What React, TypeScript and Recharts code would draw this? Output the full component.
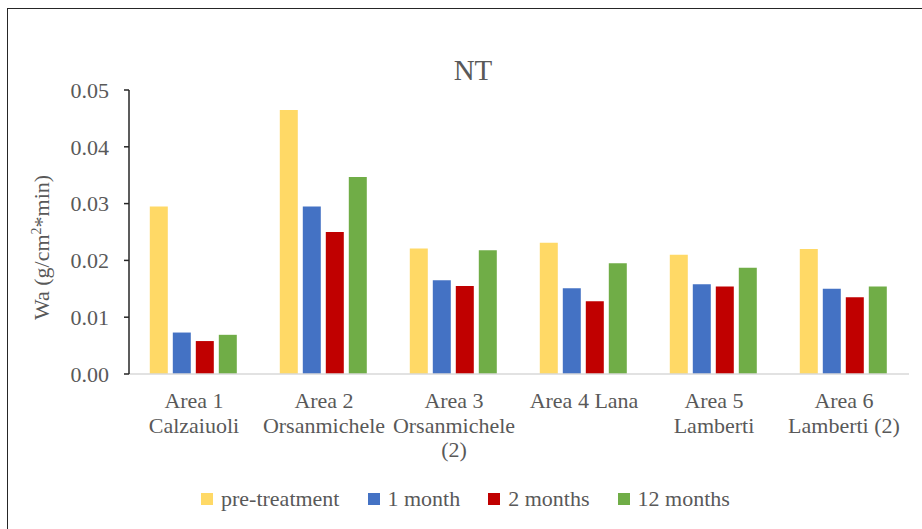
import React from "react";
import { BarChart, Bar, XAxis, YAxis, Legend } from "recharts";

// Category labels (line breaks mark where each label wraps)
const categories = [
  "Area 1\nCalzaiuoli",
  "Area 2\nOrsanmichele",
  "Area 3\nOrsanmichele\n(2)",
  "Area 4 Lana",
  "Area 5\nLamberti",
  "Area 6\nLamberti (2)",
];

// Wa values, g/cm²*min
const preTreatment = [0.0295, 0.0465, 0.0221, 0.0231, 0.021, 0.022];
const oneMonth = [0.0073, 0.0295, 0.0165, 0.0151, 0.0158, 0.015];
const twoMonths = [0.0058, 0.025, 0.0155, 0.0128, 0.0154, 0.0135];
const twelveMonths = [0.0069, 0.0347, 0.0218, 0.0195, 0.0187, 0.0154];

const yTicks = [0, 0.01, 0.02, 0.03, 0.04, 0.05];

const seriesDefs = [
  { key: "pre", name: "pre-treatment", color: "#FFD966", values: preTreatment },
  { key: "m1", name: "1 month", color: "#4472C4", values: oneMonth },
  { key: "m2", name: "2 months", color: "#C00000", values: twoMonths },
  { key: "m12", name: "12 months", color: "#70AD47", values: twelveMonths },
];

const data = categories.map((cat, i) => {
  const row: Record<string, string | number> = { cat };
  seriesDefs.forEach((s) => {
    row[s.key] = s.values[i];
  });
  return row;
});

const FONT = '"Liberation Serif", "Times New Roman", serif';
const TEXT_COLOR = "#595959";

const CategoryTick = (props: any) => {
  const { x, y, payload } = props;
  const lines = String(payload.value).split("\n");
  return (
    <text
      x={x}
      y={y}
      textAnchor="middle"
      fill={TEXT_COLOR}
      fontSize={22}
      fontFamily={FONT}
    >
      {lines.map((ln, i) => (
        <tspan key={i} x={x} dy={i === 0 ? 34 : 24.5}>
          {ln}
        </tspan>
      ))}
    </text>
  );
};

const LegendContent = () => (
  <div
    style={{
      height: 52,
      display: "flex",
      alignItems: "flex-start",
      paddingLeft: 201,
      paddingTop: 9,
      boxSizing: "border-box",
      fontFamily: FONT,
      fontSize: 22,
      color: TEXT_COLOR,
    }}
  >
    {seriesDefs.map((s) => (
      <div
        key={s.key}
        style={{ display: "flex", alignItems: "center", marginRight: 28 }}
      >
        <div
          style={{
            width: 12,
            height: 12,
            background: s.color,
            marginRight: 8,
          }}
        />
        <span style={{ whiteSpace: "nowrap" }}>{s.name}</span>
      </div>
    ))}
  </div>
);

export default function App() {
  return (
    <div
      style={{
        position: "absolute",
        left: 0,
        top: 0,
        width: 922,
        height: 529,
        background: "#fff",
        overflow: "hidden",
      }}
    >
      <div
        style={{
          position: "absolute",
          left: 7,
          top: 8,
          width: 930,
          height: 540,
          borderTop: "1.5px solid #262626",
          borderLeft: "1.5px solid #262626",
        }}
      />
      <div style={{ position: "absolute", left: 0, top: 0 }}>
        <BarChart
          width={922}
          height={529}
          data={data}
          margin={{ top: 90, right: 13, left: 0, bottom: 0 }}
          barCategoryGap="16%"
          barGap={5}
        >
          <text
            x={473}
            y={80}
            textAnchor="middle"
            fill={TEXT_COLOR}
            fontSize={29}
            fontFamily={FONT}
          >
            NT
          </text>
          <text
            x={49}
            y={247.5}
            transform="rotate(-90, 49, 247.5)"
            textAnchor="middle"
            fill={TEXT_COLOR}
            fontSize={22}
            fontFamily={FONT}
          >
            <tspan>Wa (g/cm</tspan>
            <tspan fontSize={14} dy={-8}>
              2
            </tspan>
            <tspan dy={8}>*min)</tspan>
          </text>
          <XAxis
            dataKey="cat"
            height={103}
            interval={0}
            tickLine={false}
            tickSize={0}
            tickMargin={0}
            axisLine={{ stroke: "#D9D9D9", strokeWidth: 1.5 }}
            tick={<CategoryTick />}
          />
          <YAxis
            width={129}
            domain={[0, 0.05]}
            ticks={yTicks}
            interval={0}
            tickFormatter={(v: number) => v.toFixed(2)}
            tickSize={5}
            tickMargin={15}
            axisLine={{ stroke: "#262626", strokeWidth: 1.5 }}
            tickLine={{ stroke: "#262626", strokeWidth: 1.5 }}
            tick={{ fill: TEXT_COLOR, fontSize: 22, fontFamily: FONT }}
          />
          <Legend
            verticalAlign="bottom"
            align="left"
            height={52}
            wrapperStyle={{ left: 0, width: 922 }}
            content={<LegendContent />}
          />
          {seriesDefs.map((s) => (
            <Bar
              key={s.key}
              dataKey={s.key}
              name={s.name}
              fill={s.color}
              isAnimationActive={false}
            />
          ))}
        </BarChart>
      </div>
    </div>
  );
}
